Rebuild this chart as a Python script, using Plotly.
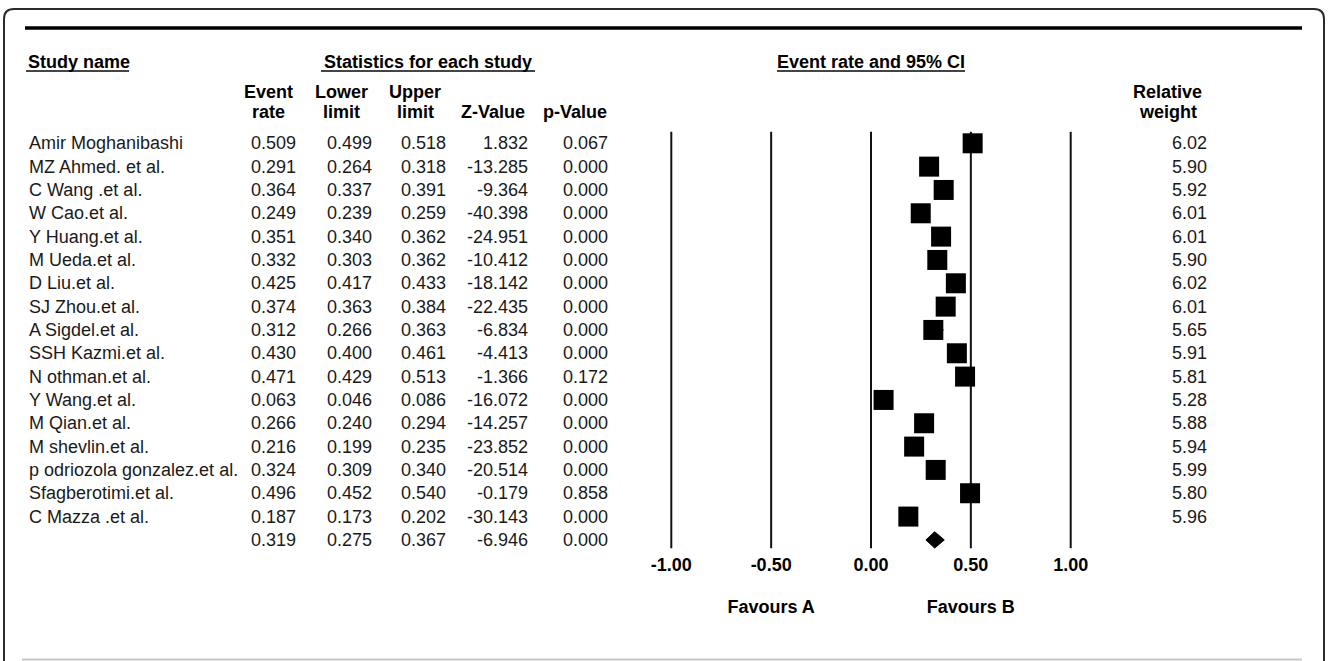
import plotly.graph_objects as go

# ---------------- data ----------------
study_names = [
    "Amir Moghanibashi", "MZ Ahmed. et al.", "C Wang .et al.", "W Cao.et al.",
    "Y Huang.et al.", "M Ueda.et al.", "D Liu.et al.", "SJ Zhou.et al.",
    "A Sigdel.et al.", "SSH Kazmi.et al.", "N othman.et al.", "Y Wang.et al.",
    "M Qian.et al.", "M shevlin.et al.", "p odriozola gonzalez.et al.",
    "Sfagberotimi.et al.", "C Mazza .et al.",
]
event_rate = [0.509, 0.291, 0.364, 0.249, 0.351, 0.332, 0.425, 0.374, 0.312,
              0.430, 0.471, 0.063, 0.266, 0.216, 0.324, 0.496, 0.187]
lower_limit = [0.499, 0.264, 0.337, 0.239, 0.340, 0.303, 0.417, 0.363, 0.266,
               0.400, 0.429, 0.046, 0.240, 0.199, 0.309, 0.452, 0.173]
upper_limit = [0.518, 0.318, 0.391, 0.259, 0.362, 0.362, 0.433, 0.384, 0.363,
               0.461, 0.513, 0.086, 0.294, 0.235, 0.340, 0.540, 0.202]
z_value = [1.832, -13.285, -9.364, -40.398, -24.951, -10.412, -18.142, -22.435,
           -6.834, -4.413, -1.366, -16.072, -14.257, -23.852, -20.514, -0.179,
           -30.143]
p_value = [0.067, 0.000, 0.000, 0.000, 0.000, 0.000, 0.000, 0.000, 0.000,
           0.000, 0.172, 0.000, 0.000, 0.000, 0.000, 0.858, 0.000]
relative_weight = [6.02, 5.90, 5.92, 6.01, 6.01, 5.90, 6.02, 6.01, 5.65, 5.91,
                   5.81, 5.28, 5.88, 5.94, 5.99, 5.80, 5.96]

summary_event = 0.319
summary_lower = 0.275
summary_upper = 0.367
summary_z = -6.946
summary_p = 0.000

tick_values = [-1.0, -0.5, 0.0, 0.5, 1.0]
tick_labels = ["-1.00", "-0.50", "0.00", "0.50", "1.00"]
favour_labels = ["Favours A", "Favours B"]
favour_positions = [-0.5, 0.5]

# ---------------- layout helpers ----------------
W, H = 1330, 661
ROW0_PX, ROW_PX = 143.3, 23.33          # pixel of row 0, pixels per row
X0_PX, UNIT_PX = 871.0, 199.7           # pixel of value 0, pixels per unit
y_top = -ROW0_PX / ROW_PX
y_bot = y_top + H / ROW_PX
x_left = -X0_PX / UNIT_PX
x_right = x_left + W / UNIT_PX

FONT = "Liberation Sans, Arial, Helvetica, sans-serif"
FS = 18
TXT = "#1a1a1a"


def px(x):
    return x / W


def py(y):
    return 1 - y / H


n = len(study_names)
rows = list(range(n))
sum_row = n

fig = go.Figure()

# vertical reference lines at tick values
vx, vy = [], []
for t in tick_values:
    vx += [t, t, None]
    vy += [-0.5, 17.36, None]
fig.add_trace(go.Scatter(x=vx, y=vy, mode="lines",
                         line=dict(color="#111111", width=2),
                         hoverinfo="skip", showlegend=False))

# study CIs (hidden under squares mostly)
cx, cy = [], []
for i in rows:
    cx += [lower_limit[i], upper_limit[i], None]
    cy += [i, i, None]
fig.add_trace(go.Scatter(x=cx, y=cy, mode="lines",
                         line=dict(color="black", width=1.5),
                         hoverinfo="skip", showlegend=False))

# study squares
fig.add_trace(go.Scatter(x=event_rate, y=rows, mode="markers",
                         marker=dict(symbol="square", size=20, color="black",
                                     line=dict(width=0)),
                         hoverinfo="skip", showlegend=False))

# summary diamond
h = 0.35
fig.add_trace(go.Scatter(
    x=[summary_lower, summary_event, summary_upper, summary_event, summary_lower],
    y=[sum_row, sum_row - h, sum_row, sum_row + h, sum_row],
    mode="lines", fill="toself", fillcolor="black",
    line=dict(color="black", width=1),
    hoverinfo="skip", showlegend=False))

# tick labels
fig.add_trace(go.Scatter(x=tick_values, y=[18.12] * len(tick_values),
                         mode="text", text=[f"<b>{t}</b>" for t in tick_labels],
                         textposition="middle center",
                         textfont=dict(family=FONT, size=FS, color="black"),
                         hoverinfo="skip", showlegend=False))

# favours labels
fig.add_trace(go.Scatter(x=favour_positions, y=[19.96, 19.96],
                         mode="text", text=[f"<b>{t}</b>" for t in favour_labels],
                         textposition="middle center",
                         textfont=dict(family=FONT, size=FS, color="black"),
                         hoverinfo="skip", showlegend=False))

annotations = []


def add_text(xpx, row, text, anchor="right", bold=False, color=TXT, yref="y"):
    annotations.append(dict(
        x=px(xpx), xref="paper", y=row, yref=yref,
        text=f"<b>{text}</b>" if bold else text,
        xanchor=anchor, yanchor="middle", showarrow=False,
        font=dict(family=FONT, size=FS, color=color)))


# table columns (right edges in px)
COL_ER, COL_LO, COL_UP, COL_Z, COL_P, COL_W = 298, 374, 448, 530, 610, 1209
for i in rows:
    add_text(27, i, study_names[i], anchor="left")
    add_text(COL_ER, i, f"{event_rate[i]:.3f}")
    add_text(COL_LO, i, f"{lower_limit[i]:.3f}")
    add_text(COL_UP, i, f"{upper_limit[i]:.3f}")
    add_text(COL_Z, i, f"{z_value[i]:.3f}")
    add_text(COL_P, i, f"{p_value[i]:.3f}")
    add_text(COL_W, i, f"{relative_weight[i]:.2f}")

add_text(COL_ER, sum_row, f"{summary_event:.3f}")
add_text(COL_LO, sum_row, f"{summary_lower:.3f}")
add_text(COL_UP, sum_row, f"{summary_upper:.3f}")
add_text(COL_Z, sum_row, f"{summary_z:.3f}")
add_text(COL_P, sum_row, f"{summary_p:.3f}")


def row_of(ypx):
    return (ypx - ROW0_PX) / ROW_PX


# header texts
add_text(26, row_of(62), "Study name", anchor="left", bold=True, color="black")
add_text(428, row_of(62), "Statistics for each study", anchor="center", bold=True, color="black")
add_text(871, row_of(62), "Event rate and 95% CI", anchor="center", bold=True, color="black")

col_headers = [
    (268.5, "Event", "rate"),
    (341, "Lower", "limit"),
    (415, "Upper", "limit"),
    (492.5, "", "Z-Value"),
    (575, "", "p-Value"),
    (1167.5, "Relative", "weight"),
]
for cxp, l1, l2 in col_headers:
    if l1:
        add_text(cxp, row_of(92), l1, anchor="center", bold=True, color="black")
    add_text(cxp, row_of(112), l2, anchor="center", bold=True, color="black")

# ---------------- decorative shapes ----------------
shapes = []
r = 10
L, R, T = 4, 1324, 9
path = (f"M {px(L)},{py(H + 2)} L {px(L)},{py(T + r)} "
        f"Q {px(L)},{py(T)} {px(L + r)},{py(T)} "
        f"L {px(R - r)},{py(T)} Q {px(R)},{py(T)} {px(R)},{py(T + r)} "
        f"L {px(R)},{py(H + 2)}")
shapes.append(dict(type="path", path=path, xref="paper", yref="paper",
                   line=dict(color="#2a2a2a", width=2)))
# thick top rule
shapes.append(dict(type="line", xref="paper", yref="paper",
                   x0=px(25), x1=px(1302), y0=py(28), y1=py(28),
                   line=dict(color="black", width=3.5)))
# bottom gray rule
shapes.append(dict(type="line", xref="paper", yref="paper",
                   x0=px(22), x1=px(1302), y0=py(659.5), y1=py(659.5),
                   line=dict(color="#c8c8c8", width=2)))
# header underlines
for x0, x1 in [(26, 129), (321, 535), (777, 965)]:
    shapes.append(dict(type="line", xref="paper", yref="paper",
                       x0=px(x0), x1=px(x1), y0=py(71), y1=py(71),
                       line=dict(color="#444444", width=2)))

fig.update_layout(
    width=W, height=H, autosize=False,
    margin=dict(l=0, r=0, t=0, b=0, pad=0),
    paper_bgcolor="white", plot_bgcolor="white",
    xaxis=dict(range=[x_left, x_right], visible=False, fixedrange=True,
               domain=[0, 1]),
    yaxis=dict(range=[y_bot, y_top], visible=False, fixedrange=True,
               domain=[0, 1]),
    annotations=annotations,
    shapes=shapes,
    font=dict(family=FONT, size=FS, color=TXT),
)

fig.write_html("out.html", config={"displayModeBar": False})
